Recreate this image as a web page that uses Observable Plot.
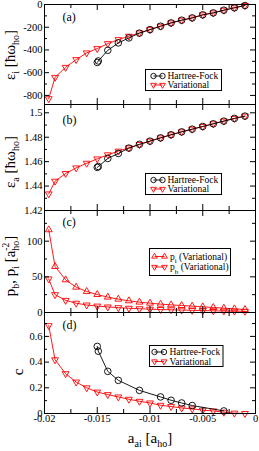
<!DOCTYPE html>
<html><head><meta charset="utf-8">
<script src="https://cdn.jsdelivr.net/npm/d3@7"></script>
<script src="https://cdn.jsdelivr.net/npm/@observablehq/plot@0.6"></script>
<style>
body{margin:0;background:#fff;}
#wrap{position:relative;width:259px;height:451px;font-family:"Liberation Serif","Times New Roman",serif;}
#wrap svg.plotsvg{display:block;overflow:visible;}
#overlay{position:absolute;left:0;top:0;overflow:visible;}
</style></head><body><div id="wrap"></div>
<script>
// ---- data ----
const xVar = [-0.0196, -0.019, -0.018, -0.017, -0.016, -0.015, -0.014, -0.013, -0.012, -0.011, -0.010, -0.009, -0.008, -0.007, -0.006, -0.005, -0.004, -0.003, -0.002, -0.001];
const epsIVar = [-829, -641, -553, -485, -426, -388, -344, -309, -279, -250, -221, -191, -162, -138, -118, -91, -74, -50, -29, -9];
const epsAVar = [1.4336, 1.4440, 1.4503, 1.4549, 1.4587, 1.4623, 1.4656, 1.4686, 1.4713, 1.4740, 1.4768, 1.4795, 1.4820, 1.4844, 1.4866, 1.4888, 1.4910, 1.4932, 1.4954, 1.4973];
const pIVar = [116, 64.5, 45.8, 35.5, 29.5, 25.2, 21.5, 18.7, 16.4, 14.5, 13.1, 11.7, 10.7, 9.8, 8.9, 7.9, 7.0, 6.1, 5.1, 4.2];
const pBVar = [47, 25, 17, 13, 10.5, 9, 7.8, 6.8, 6.0, 5.3, 4.7, 4.2, 3.8, 3.4, 3.0, 2.7, 2.4, 2.1, 1.9, 1.7];
const cVar = [0.684, 0.418, 0.31, 0.245, 0.2, 0.167, 0.147, 0.129, 0.111, 0.095, 0.082, 0.064, 0.054, 0.043, 0.036, 0.026, 0.02, 0.01, 0.003, 0.0];

const xHF = [-0.015, -0.0149, -0.014, -0.013, -0.012, -0.011, -0.010, -0.009, -0.008, -0.007, -0.006, -0.005, -0.004, -0.003, -0.002, -0.001];
const epsIHF = [-510, -497, -403, -338, -294, -252, -221, -191, -162, -138, -118, -91, -74, -50, -29, -9];
const epsAHF = [1.4553, 1.4560, 1.4626, 1.4667, 1.4711, 1.4742, 1.4768, 1.4795, 1.4820, 1.4844, 1.4866, 1.4888, 1.4910, 1.4932, 1.4954, 1.4973];
const xHFc = [-0.015, -0.0149, -0.014, -0.013, -0.011, -0.009, -0.008, -0.007, -0.006, -0.003];
const cHF = [0.522, 0.485, 0.328, 0.258, 0.18, 0.129, 0.103, 0.082, 0.062, 0.02];

const xTickLabels = [-0.02, -0.015, -0.01, -0.005, 0];
const xMinorTicks = [-0.0175, -0.0125, -0.0075, -0.0025];
const yTicksA = [-800, -600, -400, -200, 0], yMinorA = [-700, -500, -300, -100];
const yTicksB = [1.42, 1.44, 1.46, 1.48, 1.5], yMinorB = [1.43, 1.45, 1.47, 1.49];
const yTicksC = [0, 50, 100], yMinorC = [25, 75, 125];
const yTicksD = [0, 0.2, 0.4, 0.6], yMinorD = [0.1, 0.3, 0.5, 0.7];

const RED = "#ff0000", BLACK = "#000000";

// ---- symbols ----
function tri(up) {
  return {draw(ctx, size) {
    const R = Math.sqrt(size / Math.PI) * 1.2;
    const s = up ? -1 : 1;
    ctx.moveTo(0, s * R);
    ctx.lineTo(R * 0.866, -s * R / 2);
    ctx.lineTo(-R * 0.866, -s * R / 2);
    ctx.closePath();
  }};
}
const triDown = tri(false), triUp = tri(true);

const W = 259, ML = 44, MR = 4, PW = W - ML - MR;

function panel({h, mt, mb, domain, yT, yM, series, xLabels}) {
  const ph = h - mt - mb;
  const marks = [];
  for (const s of series) {
    const data = s.x.map((x, i) => ({x, y: s.y[i]}));
    marks.push(Plot.line(data, {x: "x", y: "y", stroke: s.color, strokeWidth: 0.9}));
    marks.push(Plot.dot(data, {x: "x", y: "y", stroke: s.color, fill: "none", strokeWidth: 0.9, r: 3.3, symbol: s.symbol}));
  }
  // inward ticks
  marks.push(Plot.tickY(yT, {y: d => d, insetRight: PW - 5, stroke: BLACK}));
  marks.push(Plot.tickY(yT, {y: d => d, insetLeft: PW - 5, stroke: BLACK}));
  marks.push(Plot.tickY(yM, {y: d => d, insetRight: PW - 3, stroke: BLACK}));
  marks.push(Plot.tickY(yM, {y: d => d, insetLeft: PW - 3, stroke: BLACK}));
  marks.push(Plot.tickX(xTickLabels, {x: d => d, insetBottom: ph - 6, stroke: BLACK}));
  marks.push(Plot.tickX(xTickLabels, {x: d => d, insetTop: ph - 6, stroke: BLACK}));
  marks.push(Plot.tickX(xMinorTicks, {x: d => d, insetBottom: ph - 4, stroke: BLACK}));
  marks.push(Plot.tickX(xMinorTicks, {x: d => d, insetTop: ph - 4, stroke: BLACK}));
  marks.push(Plot.frame({stroke: BLACK, strokeWidth: 1}));
  marks.push(Plot.axisY({ticks: yT, tickSize: 0, tickPadding: 2, tickFormat: d => String(d), label: null}));
  if (xLabels) marks.push(Plot.axisX({ticks: xTickLabels, tickSize: 0, tickPadding: 1.5, tickFormat: d => String(d), label: null}));
  const p = Plot.plot({
    width: W, height: h, marginLeft: ML, marginRight: MR, marginTop: mt, marginBottom: mb,
    x: xLabels ? {domain: [-0.02, 0]} : {domain: [-0.02, 0], axis: null},
    y: {domain},
    style: {fontFamily: "'Liberation Serif', 'Times New Roman', serif", fontSize: "10.5px", overflow: "visible", background: "transparent", color: "black"},
    marks
  });
  p.classList.add("plotsvg");
  return p;
}

const wrap = document.getElementById("wrap");
wrap.appendChild(panel({h: 104, mt: 4, mb: 0, domain: [-880, 0], yT: yTicksA, yM: yMinorA,
  series: [{x: xVar, y: epsIVar, color: RED, symbol: triDown}, {x: xHF, y: epsIHF, color: BLACK, symbol: "circle"}]}));
wrap.appendChild(panel({h: 106, mt: 0, mb: 0, domain: [1.42, 1.5068], yT: yTicksB, yM: yMinorB,
  series: [{x: xVar, y: epsAVar, color: RED, symbol: triDown}, {x: xHF, y: epsAHF, color: BLACK, symbol: "circle"}]}));
wrap.appendChild(panel({h: 102, mt: 0, mb: 0, domain: [0, 143], yT: yTicksC, yM: yMinorC,
  series: [{x: xVar, y: pIVar, color: RED, symbol: triUp}, {x: xVar, y: pBVar, color: RED, symbol: triDown}]}));
wrap.appendChild(panel({h: 139, mt: 0, mb: 38, domain: [0, 0.786], yT: yTicksD, yM: yMinorD,
  series: [{x: xVar, y: cVar, color: RED, symbol: triDown}, {x: xHFc, y: cHF, color: BLACK, symbol: "circle"}], xLabels: true}));

// ---- overlay: titles, panel letters, legends ----
const NS = "http://www.w3.org/2000/svg";
const ov = document.createElementNS(NS, "svg");
ov.setAttribute("id", "overlay");
ov.setAttribute("width", W); ov.setAttribute("height", 451);
ov.setAttribute("font-family", "Liberation Serif, Times New Roman, serif");
wrap.appendChild(ov);
let html = "";
const sub = (t, fs) => `<tspan dy="3.5" font-size="${fs}">${t}</tspan><tspan dy="-3.5">`;
// y titles
html += `<text transform="translate(15,55) rotate(-90)" text-anchor="middle" font-size="15">ε${sub("i", 10)} [ħω</tspan>${sub("ho", 10)}]</tspan></text>`;
html += `<text transform="translate(15,162) rotate(-90)" text-anchor="middle" font-size="15">ε${sub("a", 10)} [ħω</tspan>${sub("ho", 10)}]</tspan></text>`;
html += `<text transform="translate(15,266) rotate(-90)" text-anchor="middle" font-size="15">p${sub("b", 10)}, p</tspan>${sub("i", 10)} [a</tspan><tspan dy="-6" font-size="9.5">-2</tspan><tspan dx="-8" dy="10" font-size="10">ho</tspan><tspan dy="-4">]</tspan></text>`;
html += `<text transform="translate(23,372) rotate(-90)" text-anchor="middle" font-size="15">c</text>`;
// x title
html += `<text x="150" y="443" text-anchor="middle" font-size="15">a${sub("ai", 10)} [a</tspan>${sub("ho", 10)}]</tspan></text>`;
// panel letters
[["(a)", 21], ["(b)", 124], ["(c)", 226], ["(d)", 329]].forEach(([t, y]) => {
  html += `<text x="62.5" y="${y}" font-size="12">${t}</text>`;
});
// legends
function circ(x, y, c) { return `<circle cx="${x}" cy="${y}" r="2.7" fill="none" stroke="${c}" stroke-width="0.9"/>`; }
function triP(x, y, c, up) {
  const R = 3.3, s = up ? -1 : 1;
  return `<path d="M${x},${y + s * R}L${x + R * 0.866},${y - s * R / 2}L${x - R * 0.866},${y - s * R / 2}Z" fill="none" stroke="${c}" stroke-width="0.9"/>`;
}
function entry(x1, x2, y, c, sym, label, tx) {
  let s = `<line x1="${x1}" x2="${x2}" y1="${y}" y2="${y}" stroke="${c}" stroke-width="0.9"/>`;
  s += sym(x1, y, c) + sym(x2, y, c);
  s += `<text x="${tx}" y="${y + 3.3}" font-size="9.5">${label}</text>`;
  return s;
}
function legendHF(x, y, w, h, y1, y2, sx1, sx2, tx) {
  let s = `<rect x="${x}" y="${y}" width="${w}" height="${h}" fill="white" stroke="black" stroke-width="1"/>`;
  s += entry(sx1, sx2, y1, BLACK, circ, "Hartree-Fock", tx);
  s += entry(sx1, sx2, y2, RED, (a, b, c) => triP(a, b, c, false), "Variational", tx);
  return s;
}
html += legendHF(145.5, 69.5, 76, 21, 76, 85, 153.5, 162.5, 167.5);
html += legendHF(145.5, 173.5, 76, 21, 180, 189, 153.5, 162.5, 167.5);
html += legendHF(149.5, 345.5, 73.5, 21, 352, 361.5, 154.5, 164, 169.5);
// legend (c)
html += `<rect x="149.5" y="248.5" width="81" height="27" fill="white" stroke="black" stroke-width="1"/>`;
html += entry(154.5, 164.5, 256.5, RED, (a, b, c) => triP(a, b, c, true), `p${sub("i", 7)} (Variational)</tspan>`, 170);
html += entry(154.5, 164.5, 267, RED, (a, b, c) => triP(a, b, c, false), `p${sub("b", 7)} (Variational)</tspan>`, 170);
ov.innerHTML = html;
</script>
</body></html>
